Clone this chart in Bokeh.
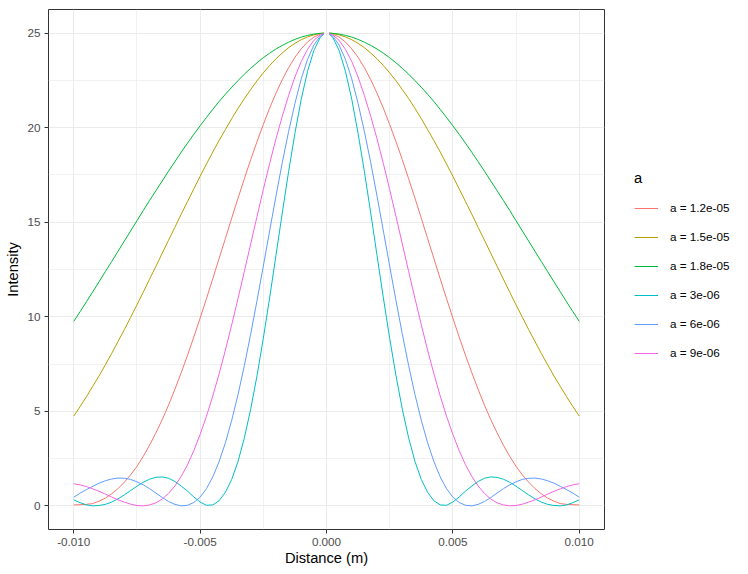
from bokeh.plotting import figure
from bokeh.layouts import row
from bokeh.models import Legend, LegendItem, FixedTicker, NumeralTickFormatter, Range1d
from bokeh.embed import file_html
from bokeh.resources import INLINE

nan = float("nan")

# x positions (m); the missing value at 0 reproduces the break at the centre of the reference
distance = [-0.01000, -0.00975, -0.00950, -0.00925, -0.00900, -0.00875, -0.00850, -0.00825,
            -0.00800, -0.00775, -0.00750, -0.00725, -0.00700, -0.00675, -0.00650, -0.00625,
            -0.00600, -0.00575, -0.00550, -0.00525, -0.00500, -0.00475, -0.00450, -0.00425,
            -0.00400, -0.00375, -0.00350, -0.00325, -0.00300, -0.00275, -0.00250, -0.00225,
            -0.00200, -0.00175, -0.00150, -0.00125, -0.00100, -0.00075, -0.00050, -0.00025,
            -0.0001, 0.0, 0.0001,
            0.00025, 0.00050, 0.00075, 0.00100, 0.00125, 0.00150, 0.00175, 0.00200,
            0.00225, 0.00250, 0.00275, 0.00300, 0.00325, 0.00350, 0.00375, 0.00400,
            0.00425, 0.00450, 0.00475, 0.00500, 0.00525, 0.00550, 0.00575, 0.00600,
            0.00625, 0.00650, 0.00675, 0.00700, 0.00725, 0.00750, 0.00775, 0.00800,
            0.00825, 0.00850, 0.00875, 0.00900, 0.00925, 0.00950, 0.00975, 0.01000]

labels = ["a = 1.2e-05", "a = 1.5e-05", "a = 1.8e-05", "a = 3e-06", "a = 6e-06", "a = 9e-06"]
colors = ["#F8766D", "#B79F00", "#00BA38", "#00BFC4", "#619CFF", "#F564E3"]

i_12e5 = [0.05, 0.06, 0.08, 0.12, 0.25, 0.41, 0.64, 0.91, 1.25, 1.64, 2.09, 2.62, 3.21, 3.86,
          4.56, 5.33, 6.16, 7.04, 7.96, 8.93, 9.93, 10.96, 12.01, 13.08, 14.14, 15.22, 16.27,
          17.30, 18.31, 19.26, 20.17, 21.03, 21.82, 22.54, 23.17, 23.72, 24.17, 24.53, 24.79,
          24.95, 24.99, nan, 24.99,
          24.95, 24.79, 24.53, 24.17, 23.72, 23.17, 22.54, 21.82, 21.03, 20.17, 19.26, 18.31,
          17.30, 16.27, 15.22, 14.14, 13.08, 12.01, 10.96, 9.93, 8.93, 7.96, 7.04, 6.16, 5.33,
          4.56, 3.86, 3.21, 2.62, 2.09, 1.64, 1.25, 0.91, 0.64, 0.41, 0.25, 0.12, 0.08, 0.06, 0.05]
i_15e5 = [4.75, 5.25, 5.77, 6.32, 6.87, 7.46, 8.06, 8.69, 9.32, 9.97, 10.63, 11.30, 11.99,
          12.67, 13.36, 14.05, 14.73, 15.42, 16.09, 16.76, 17.43, 18.08, 18.71, 19.32, 19.90,
          20.48, 21.02, 21.54, 22.02, 22.48, 22.90, 23.29, 23.64, 23.95, 24.23, 24.46, 24.65,
          24.80, 24.91, 24.98, 25.00, nan, 25.00,
          24.98, 24.91, 24.80, 24.65, 24.46, 24.23, 23.95, 23.64, 23.29, 22.90, 22.48, 22.02,
          21.54, 21.02, 20.48, 19.90, 19.32, 18.71, 18.08, 17.43, 16.76, 16.09, 15.42, 14.73,
          14.05, 13.36, 12.67, 11.99, 11.30, 10.63, 9.97, 9.32, 8.69, 8.06, 7.46, 6.87, 6.32,
          5.77, 5.25, 4.75]
i_18e5 = [9.76, 10.27, 10.79, 11.32, 11.85, 12.39, 12.92, 13.46, 14.00, 14.54, 15.08, 15.62,
          16.15, 16.67, 17.18, 17.70, 18.20, 18.70, 19.18, 19.65, 20.10, 20.54, 20.97, 21.38,
          21.77, 22.14, 22.49, 22.83, 23.14, 23.43, 23.70, 23.94, 24.16, 24.35, 24.52, 24.67,
          24.79, 24.88, 24.95, 24.99, 25.00, nan, 25.00,
          24.99, 24.95, 24.88, 24.79, 24.67, 24.52, 24.35, 24.16, 23.94, 23.70, 23.43, 23.14,
          22.83, 22.49, 22.14, 21.77, 21.38, 20.97, 20.54, 20.10, 19.65, 19.18, 18.70, 18.20,
          17.70, 17.18, 16.67, 16.15, 15.62, 15.08, 14.54, 14.00, 13.46, 12.92, 12.39, 11.85,
          11.32, 10.79, 10.27, 9.76]
i_3e6 = [0.32, 0.17, 0.05, 0.00, 0.02, 0.08, 0.20, 0.37, 0.58, 0.81, 1.04, 1.25, 1.41, 1.51,
         1.53, 1.46, 1.29, 1.05, 0.78, 0.47, 0.20, 0.03, 0.05, 0.27, 0.72, 1.40, 2.35, 3.60,
         5.11, 6.88, 8.86, 11.00, 13.24, 15.49, 17.67, 19.70, 21.50, 22.98, 24.08, 24.77,
         24.96, nan, 24.96,
         24.77, 24.08, 22.98, 21.50, 19.70, 17.67, 15.49, 13.24, 11.00, 8.86, 6.88, 5.11,
         3.60, 2.35, 1.40, 0.72, 0.27, 0.05, 0.03, 0.20, 0.47, 0.78, 1.05, 1.29, 1.46, 1.53,
         1.51, 1.41, 1.25, 1.04, 0.81, 0.58, 0.37, 0.20, 0.08, 0.02, 0.00, 0.05, 0.17, 0.32]
i_6e6 = [0.46, 0.67, 0.86, 1.03, 1.20, 1.33, 1.42, 1.47, 1.46, 1.40, 1.27, 1.11, 0.91, 0.68,
         0.44, 0.23, 0.08, 0.00, 0.03, 0.18, 0.46, 0.91, 1.53, 2.34, 3.34, 4.53, 5.89, 7.42,
         9.08, 10.85, 12.68, 14.54, 16.38, 18.15, 19.79, 21.28, 22.58, 23.61, 24.37, 24.84,
         24.97, nan, 24.97,
         24.84, 24.37, 23.61, 22.58, 21.28, 19.79, 18.15, 16.38, 14.54, 12.68, 10.85, 9.08,
         7.42, 5.89, 4.53, 3.34, 2.34, 1.53, 0.91, 0.46, 0.18, 0.03, 0.00, 0.08, 0.23, 0.44,
         0.68, 0.91, 1.11, 1.27, 1.40, 1.46, 1.47, 1.42, 1.33, 1.20, 1.03, 0.86, 0.67, 0.46]
i_9e6 = [1.17, 1.11, 1.02, 0.90, 0.77, 0.62, 0.47, 0.32, 0.20, 0.09, 0.02, 0.00, 0.05, 0.16,
         0.36, 0.66, 1.05, 1.56, 2.17, 2.92, 3.78, 4.74, 5.81, 6.98, 8.24, 9.58, 10.97, 12.40,
         13.85, 15.30, 16.73, 18.10, 19.41, 20.60, 21.70, 22.68, 23.50, 24.14, 24.62, 24.90,
         24.98, nan, 24.98,
         24.90, 24.62, 24.14, 23.50, 22.68, 21.70, 20.60, 19.41, 18.10, 16.73, 15.30, 13.85,
         12.40, 10.97, 9.58, 8.24, 6.98, 5.81, 4.74, 3.78, 2.92, 2.17, 1.56, 1.05, 0.66, 0.36,
         0.16, 0.05, 0.00, 0.02, 0.09, 0.20, 0.32, 0.47, 0.62, 0.77, 0.90, 1.02, 1.11, 1.17]

series = [i_12e5, i_15e5, i_18e5, i_3e6, i_6e6, i_9e6]

x_ticks = [-0.010, -0.005, 0.0, 0.005, 0.010]
x_minor = [-0.0075, -0.0025, 0.0025, 0.0075]
y_ticks = [0, 5, 10, 15, 20, 25]
y_minor = [2.5, 7.5, 12.5, 17.5, 22.5]

FONT = "Liberation Sans"

# main panel
p = figure(width=614, height=574, output_backend="svg", toolbar_location=None,
           x_range=Range1d(-0.011, 0.011), y_range=Range1d(-1.25, 26.25),
           min_border_left=48, min_border_right=10, min_border_top=9, min_border_bottom=45)
p.title.visible = False
p.background_fill_color = "white"
p.border_fill_color = "white"
p.outline_line_color = "#333333"
p.outline_line_width = 1

p.xaxis.ticker = FixedTicker(ticks=x_ticks, minor_ticks=x_minor)
p.yaxis.ticker = FixedTicker(ticks=y_ticks, minor_ticks=y_minor)
p.xaxis.formatter = NumeralTickFormatter(format="0.000")
p.xaxis.axis_label = "Distance (m)"
p.yaxis.axis_label = "Intensity"

for ax in (p.xaxis, p.yaxis):
    ax.axis_line_color = None
    ax.major_tick_line_color = "#333333"
    ax.major_tick_out = 4
    ax.major_tick_in = 0
    ax.minor_tick_line_color = None
    ax.major_label_text_font = FONT
    ax.major_label_text_font_size = "11.7px"
    ax.major_label_text_color = "#4D4D4D"
    ax.major_label_standoff = 4
    ax.axis_label_text_font = FONT
    ax.axis_label_text_font_size = "14.7px"
    ax.axis_label_text_font_style = "normal"
    ax.axis_label_text_color = "black"
p.xaxis.axis_label_standoff = 1
p.yaxis.axis_label_standoff = 3

for g in (p.xgrid, p.ygrid):
    g.grid_line_color = "#EBEBEB"
    g.grid_line_width = 1
    g.minor_grid_line_color = "#EBEBEB"
    g.minor_grid_line_width = 0.7

for col, vals in zip(colors, series):
    p.line(distance, vals, line_color=col, line_width=1)

# legend panel: same series, but its ranges keep them out of view, so only the keys show
q = figure(width=134, height=574, output_backend="svg", toolbar_location=None,
           x_range=Range1d(10, 11), y_range=Range1d(100, 101),
           x_axis_type=None, y_axis_type=None, min_border=0)
q.title.visible = False
q.outline_line_color = None
q.background_fill_color = "white"
q.border_fill_color = "white"
q.xgrid.visible = False
q.ygrid.visible = False

items = []
for lab, col, vals in zip(labels, colors, series):
    r = q.line(distance, vals, line_color=col, line_width=1)
    items.append(LegendItem(label=lab, renderers=[r]))

legend = Legend(items=items, location=(20, 166.5), title="a",
                title_text_font=FONT, title_text_font_size="14.7px",
                title_text_font_style="normal", title_text_color="black",
                title_standoff=12,
                label_text_font=FONT, label_text_font_size="11.7px", label_text_color="black",
                glyph_width=24, glyph_height=20, label_height=20, label_standoff=12,
                spacing=9, padding=0, margin=0,
                border_line_color=None, background_fill_alpha=0)
q.add_layout(legend)

layout = row(p, q)
open("out.html", "w").write(file_html(layout, INLINE))
